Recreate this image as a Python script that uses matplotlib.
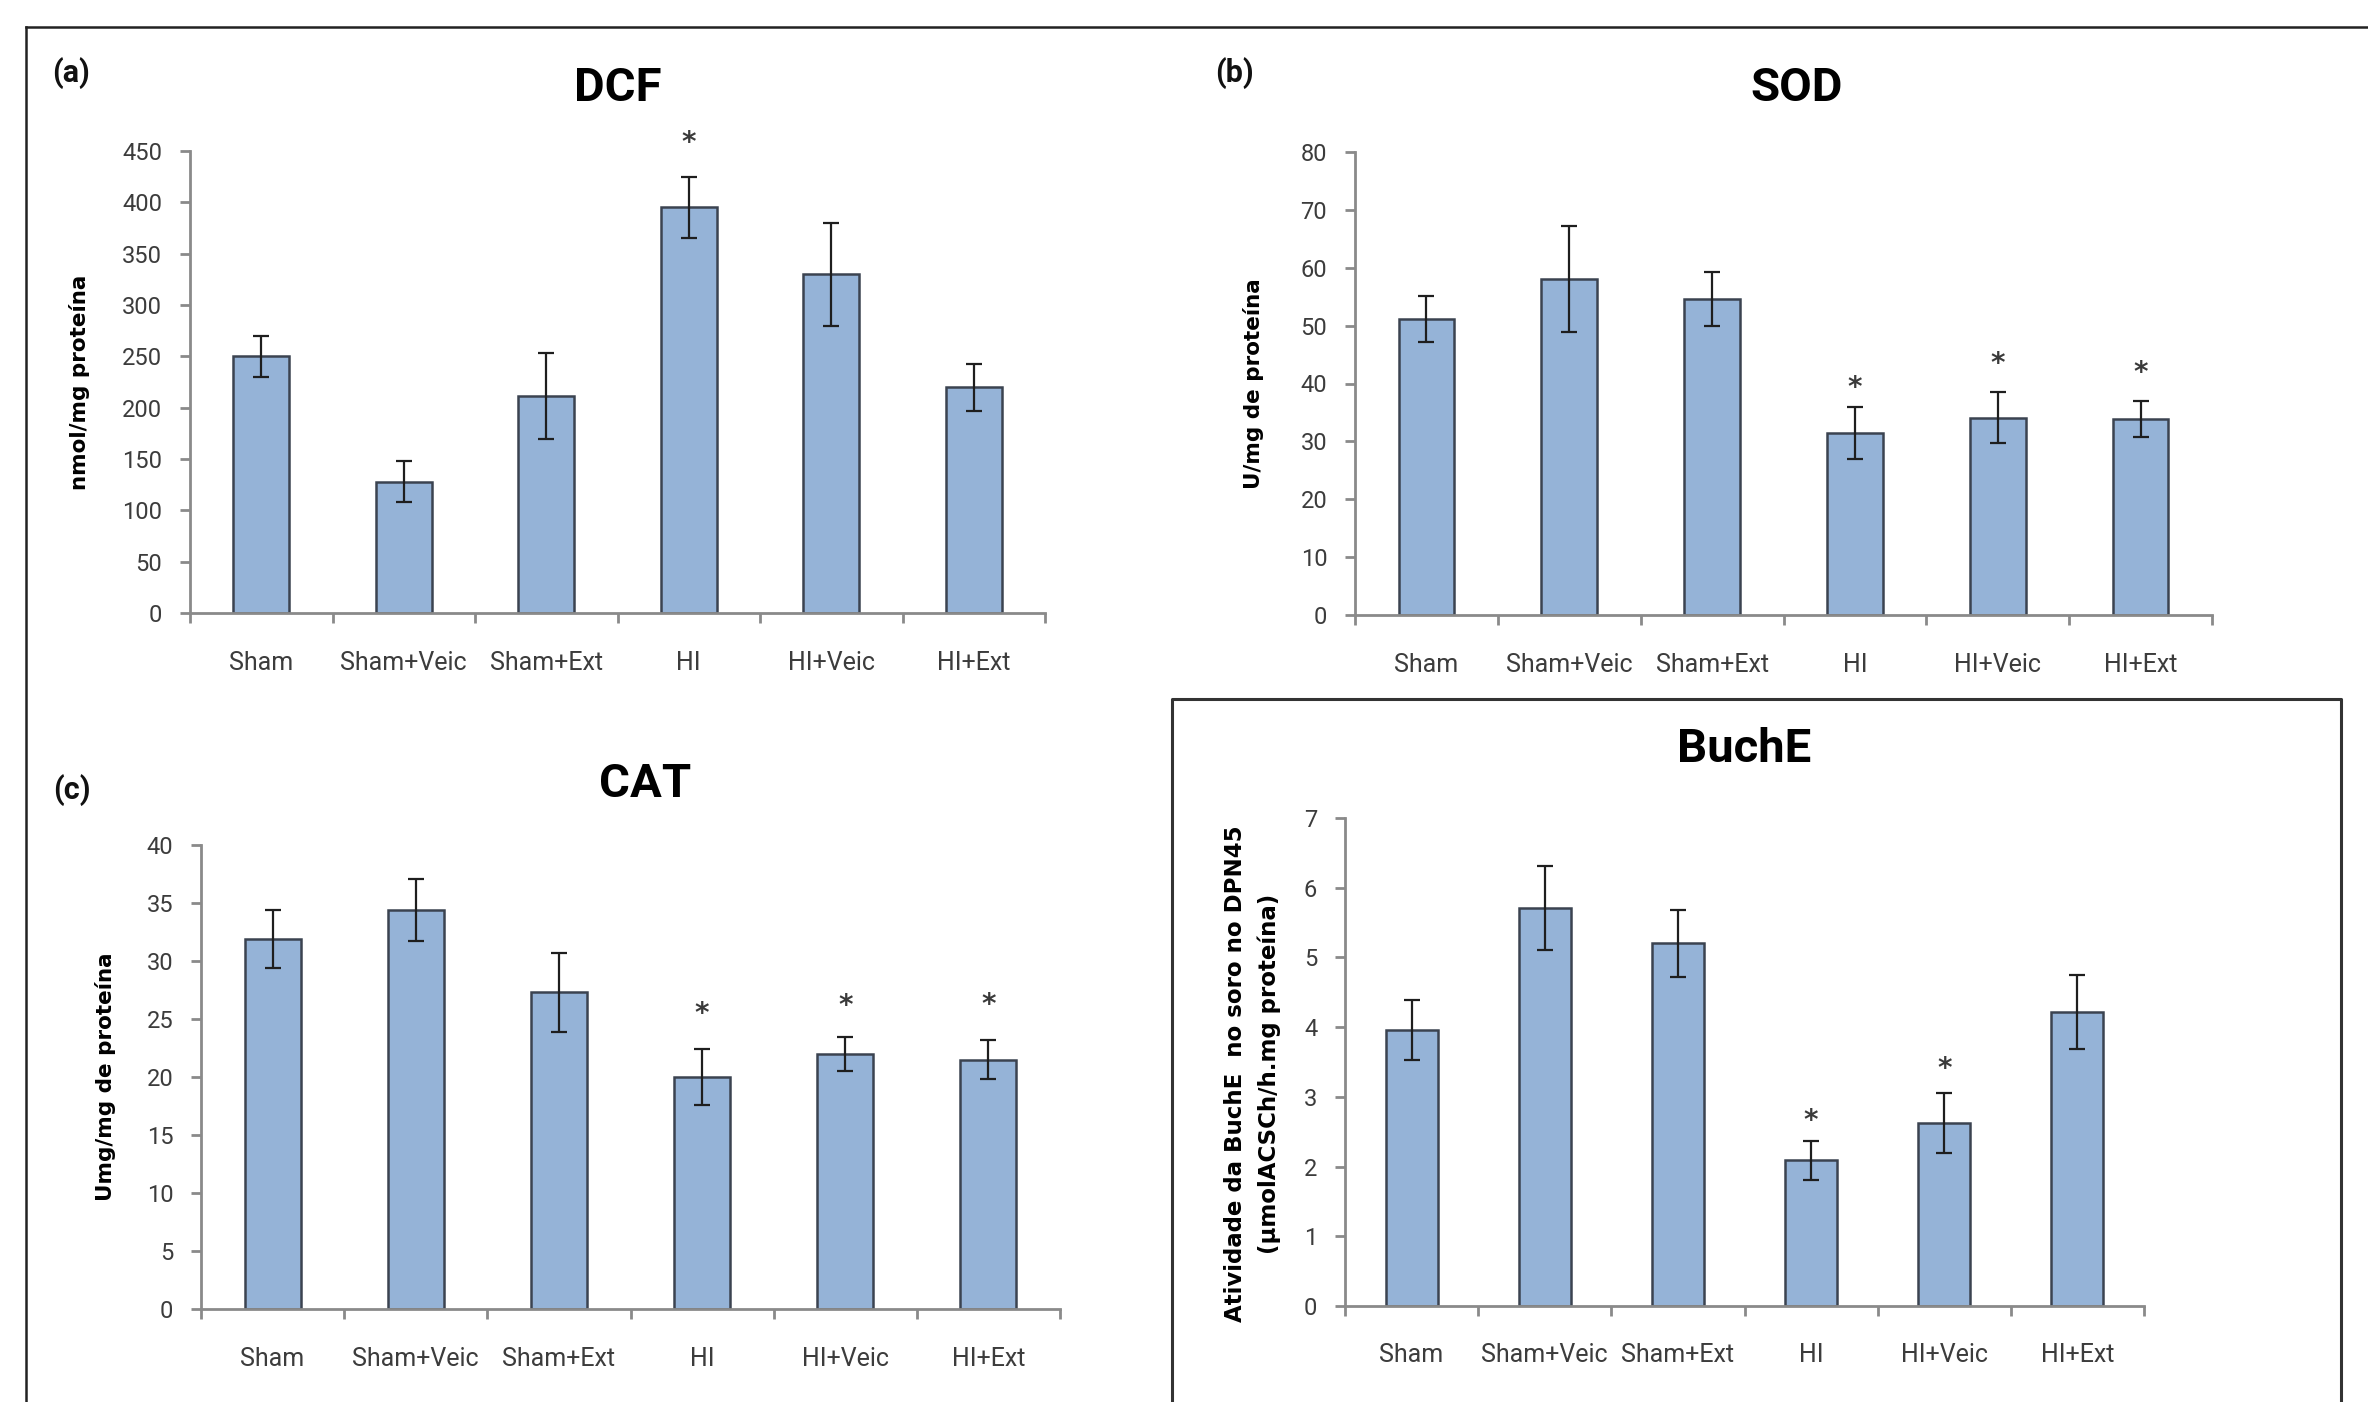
import matplotlib.pyplot as plt
import numpy as np

plt.rcParams['font.family'] = ['Roboto', 'DejaVu Sans']

W, H = 2368, 1402   # output size in px (dpi 100)

#=========================================#
groups = ['Sham', 'Sham+Veic', 'Sham+Ext', 'HI', 'HI+Veic', 'HI+Ext']

dcf_mean = [250, 128, 211, 395, 330, 220]
dcf_err  = [20, 20, 42, 30, 50, 23]
dcf_star = [np.nan, np.nan, np.nan, 463, np.nan, np.nan]

sod_mean = [51.2, 58.1, 54.6, 31.5, 34.1, 33.8]
sod_err  = [4.0, 9.2, 4.7, 4.5, 4.4, 3.1]
sod_star = [np.nan, np.nan, np.nan, 40.2, 44.4, 42.8]

cat_mean = [31.9, 34.4, 27.3, 20.0, 22.0, 21.5]
cat_err  = [2.5, 2.7, 3.4, 2.4, 1.45, 1.65]
cat_star = [np.nan, np.nan, np.nan, 25.9, 26.6, 26.7]

buche_mean = [3.96, 5.71, 5.20, 2.09, 2.63, 4.22]
buche_err  = [0.43, 0.60, 0.48, 0.28, 0.43, 0.53]
buche_star = [np.nan, np.nan, np.nan, 2.73, 3.48, np.nan]
#=========================================#

BAR = '#95B3D7'
EDGE = '#3b4350'
AXC = '#8a8a8a'
TXT = '#3c3c3c'


def px_box(l, r, b, t):
    return [l / W, 1 - b / H, (r - l) / W, (b - t) / H]


def panel(rect, mean, err, star, ymax, ystep, title, title_xy):
    ax = fig.add_axes(px_box(*rect))
    x = np.arange(len(groups))
    ax.bar(x, mean, width=0.39, color=BAR, edgecolor=EDGE, linewidth=1.8, zorder=2)
    ax.errorbar(x, mean, yerr=err, fmt='none', ecolor='#1e1e1e',
                elinewidth=1.6, capsize=6, capthick=1.6, zorder=3)
    for i, s in enumerate(star):
        if not np.isnan(s):
            ax.annotate('*', (i, s), xytext=(0, -4), textcoords='offset points',
                        ha='center', va='center', fontsize=20, fontweight='bold',
                        color='#3a3a3a', family='DejaVu Sans', annotation_clip=False)
    ax.set_xlim(-0.5, 5.5)
    ax.set_ylim(0, ymax)
    ax.set_yticks(np.arange(0, ymax + ystep / 2, ystep))
    ax.set_xticks(x)
    ax.set_xticklabels(groups)
    ax.set_xticks(np.arange(-0.5, 6, 1), minor=True)
    for sp in ['top', 'right']:
        ax.spines[sp].set_visible(False)
    for sp in ['left', 'bottom']:
        ax.spines[sp].set_color(AXC)
        ax.spines[sp].set_linewidth(2)
    ax.tick_params(axis='x', which='major', length=0, pad=27, labelsize=18, labelcolor=TXT)
    ax.tick_params(axis='x', which='minor', length=7, width=2, color=AXC, direction='out')
    ax.tick_params(axis='y', length=7, width=2, color=AXC, direction='out',
                   pad=13, labelsize=17, labelcolor=TXT)
    fig.text(title_xy[0] / W, 1 - title_xy[1] / H, title, ha='center', va='center',
             fontsize=34, fontweight='bold', color='black')
    return ax


fig = plt.figure(figsize=(W / 100, H / 100), dpi=100)

# frame lines
fig.add_artist(plt.Line2D([26 / W, 26 / W], [0, 1 - 27 / H], color='#222222', lw=1.8))
fig.add_artist(plt.Line2D([26 / W, 1], [1 - 27 / H, 1 - 27 / H], color='#222222', lw=1.8))
# box round the BuchE panel
fig.add_artist(plt.Line2D([1172 / W, 1172 / W, 2341 / W, 2341 / W],
                          [0, 1 - 699 / H, 1 - 699 / H, 0], color='#333333', lw=2.2))

panel((190, 1045, 613, 151), dcf_mean, dcf_err, dcf_star, 450, 50, 'DCF', (618, 88))
panel((1355, 2212, 615, 152), sod_mean, sod_err, sod_star, 80, 10, 'SOD', (1797, 88))
panel((201, 1060, 1309, 845), cat_mean, cat_err, cat_star, 40, 5, 'CAT', (645, 784))
panel((1345, 2144, 1306, 818), buche_mean, buche_err, buche_star, 7, 1, 'BuchE', (1744, 749))

# panel letters
for lab, (px, py) in [('(a)', (71, 73)), ('(b)', (1234, 73)), ('(c)', (72, 790))]:
    fig.text(px / W, 1 - py / H, lab, ha='center', va='center', fontsize=22,
             fontweight='bold', color='#111111')

# y axis titles
ylab = dict(rotation=90, ha='center', va='center', fontsize=15.5, fontweight='bold',
            family='DejaVu Sans', color='black')
fig.text(79 / W, 1 - 382 / H, 'nmol/mg proteína', **ylab)
fig.text(1253 / W, 1 - 384 / H, 'U/mg de proteína', **ylab)
fig.text(105 / W, 1 - 1077 / H, 'Umg/mg de proteína', **ylab)
ylab['fontsize'] = 16.5
fig.text(1236 / W, 1 - 1074 / H, 'Atividade da BuchE  no soro no DPN45', **ylab)
fig.text(1269 / W, 1 - 1074 / H, '(µmolACSCh/h.mg proteína)', **ylab)

plt.savefig('out.png', format='png', dpi=100)
